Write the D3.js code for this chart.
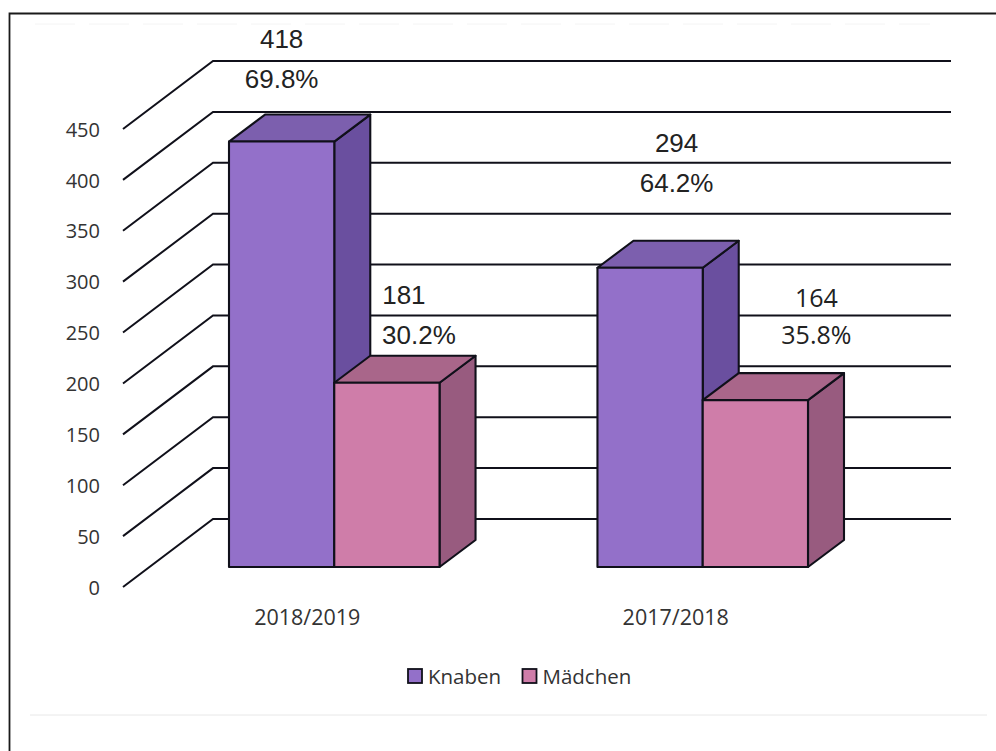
<!DOCTYPE html>
<html>
<head>
<meta charset="utf-8">
<script src="https://cdn.jsdelivr.net/npm/d3@7/dist/d3.min.js"></script>
<style>
  html, body { margin: 0; padding: 0; background: #fff; }
  svg { display: block; }
  text { fill: #222; }
</style>
</head>
<body>
<svg id="chart" width="996" height="751"></svg>
<script>
// Pupil counts per school year
const years = ["2018/2019", "2017/2018"];
const seriesNames = ["Knaben", "Mädchen"];
const knaben = [418, 294];
const maedchen = [181, 164];
const knabenShare = ["69.8%", "64.2%"];
const maedchenShare = ["30.2%", "35.8%"];
const axisTicks = [0, 50, 100, 150, 200, 250, 300, 350, 400, 450];

const seriesValues = [knaben, maedchen];
const seriesShares = [knabenShare, maedchenShare];

// Colours of the three visible faces of each column, per series
const faces = [
  { front: "#9370c9", top: "#7c5fae", side: "#6a4f9f" },
  { front: "#cf7da9", top: "#a9668a", side: "#985b7f" }
];

// Oblique projection of the chart box
const wall = { dx: 90, dy: 68 };
const barFloorDy = 20;
const barDepth = { dx: 36, dy: 27 };

const svg = d3.select("#chart");
const ink = "#10101a";

// Page frame and the faint rules on the sheet
svg.append("path").attr("d", "M9.5,751V13.5H996").attr("fill", "none").attr("stroke", "#1a1a1a").attr("stroke-width", 1.8);
svg.append("line").attr("x1", 30).attr("x2", 987).attr("y1", 715).attr("y2", 715).attr("stroke", "#e8e8e8").attr("stroke-width", 1);
svg.append("line").attr("x1", 35).attr("x2", 930).attr("y1", 24).attr("y2", 24).attr("stroke", "#f4f4f4").attr("stroke-width", 1).attr("stroke-dasharray", "40 14");

const y = d3.scaleLinear().domain([0, 450]).range([587, 129]);
const x = d3.scaleBand().domain(years).range([229, 808]).paddingInner(0.4286);
const xSeries = d3.scaleBand().domain(seriesNames).range([0, x.bandwidth()]);

// Value axis labels
const axis = d3.axisLeft(y).tickValues(axisTicks).tickSize(0).tickPadding(0);
const axisG = svg.append("g").attr("transform", "translate(100,0.8)").call(axis);
axisG.select(".domain").remove();
axisG.selectAll("text").attr("font-family", "'Open Sans'").attr("font-size", 20).style("fill", "#333");

// Side wall diagonals and back wall grid lines
const grid = svg.append("g").attr("fill", "none").attr("stroke", ink).attr("stroke-width", 2);
grid.selectAll("path").data(axisTicks).join("path")
  .attr("d", v => `M123,${y(v)}L${123 + wall.dx},${y(v) - wall.dy}H951`);

// Columns drawn as three projected faces
const bars = svg.append("g").attr("stroke", ink).attr("stroke-width", 2.1).attr("stroke-linejoin", "round");
seriesNames.forEach((name, s) => {
  years.forEach((year, i) => {
    const x0 = x(year) + xSeries(name);
    const x1 = x0 + xSeries.bandwidth();
    const yb = y(0) - barFloorDy;
    const yt = y(seriesValues[s][i]) - barFloorDy;
    const g = bars.append("g");
    g.append("path").attr("fill", faces[s].side)
      .attr("d", `M${x1},${yt}L${x1 + barDepth.dx},${yt - barDepth.dy}V${yb - barDepth.dy}L${x1},${yb}Z`);
    g.append("path").attr("fill", faces[s].top)
      .attr("d", `M${x0},${yt}L${x0 + barDepth.dx},${yt - barDepth.dy}H${x1 + barDepth.dx}L${x1},${yt}Z`);
    g.append("rect").attr("fill", faces[s].front)
      .attr("x", x0).attr("y", yt).attr("width", x1 - x0).attr("height", yb - yt);
  });
});

// Count and share labels, placed relative to each column's front centre
const labelPlacement = [
  [
    { countDx: 0, shareDx: 0, countY: 48, shareY: 88, font: "'Liberation Sans'" },
    { countDx: 26.5, shareDx: 26.5, countY: 152, shareY: 192, font: "'Liberation Sans'" }
  ],
  [
    { countDx: 17, shareDx: 32, countY: 304, shareY: 344, font: "'Liberation Sans'" },
    { countDx: 61, shareDx: 61, countY: 307, shareY: 344, font: "'Open Sans'" }
  ]
];
const labels = svg.append("g").attr("text-anchor", "middle").attr("font-size", 26);
seriesNames.forEach((name, s) => {
  years.forEach((year, i) => {
    const place = labelPlacement[s][i];
    const cx = x(year) + xSeries(name) + xSeries.bandwidth() / 2;
    const size = place.font === "'Open Sans'" ? 25 : 26;
    labels.append("text").attr("x", cx + place.countDx).attr("y", place.countY)
      .attr("font-family", place.font).attr("font-size", size).text(seriesValues[s][i]);
    labels.append("text").attr("x", cx + place.shareDx).attr("y", place.shareY)
      .attr("font-family", place.font).attr("font-size", size).text(seriesShares[s][i]);
  });
});

// Category labels
svg.append("g").selectAll("text").data(years).join("text")
  .attr("x", d => x(d) + x.bandwidth() / 2 - 27)
  .attr("y", 625)
  .attr("text-anchor", "middle")
  .attr("font-family", "'Open Sans'")
  .attr("font-size", 21.5)
  .style("fill", "#333")
  .text(d => d);

// Legend
const legendX = d3.scaleOrdinal().domain(seriesNames).range([408, 522.5]);
const legend = svg.append("g").selectAll("g").data(seriesNames).join("g")
  .attr("transform", d => `translate(${legendX(d)},669)`);
legend.append("rect").attr("width", 14).attr("height", 14)
  .attr("fill", (d, i) => faces[i].front).attr("stroke", ink).attr("stroke-width", 1.8);
legend.append("text").attr("x", 20).attr("y", 14.5)
  .attr("font-family", "'Open Sans'").attr("font-size", 20.5).style("fill", "#333")
  .text(d => d);
</script>
</body>
</html>
